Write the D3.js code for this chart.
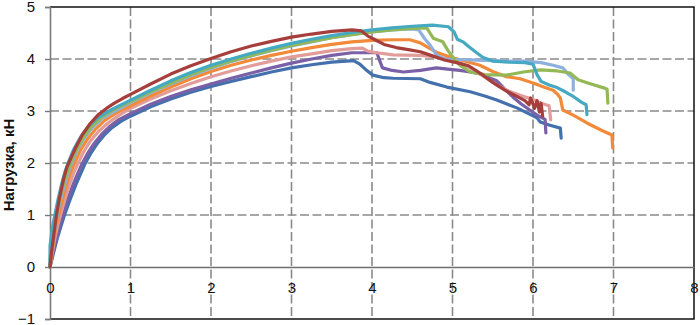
<!DOCTYPE html>
<html>
<head>
<meta charset="utf-8">
<script src="https://cdn.jsdelivr.net/npm/d3@7"></script>
<style>
  html, body { margin: 0; padding: 0; background: #fff; }
  svg { display: block; font-family: "Liberation Sans", Arial, sans-serif; }
</style>
</head>
<body>
<div id="root"></div>
<script>
// load curves, [displacement, load kN]
const blueCurve = [[0,0],[0.04,0.25],[0.09,0.55],[0.14,0.8],[0.18,1.0],[0.25,1.3],[0.32,1.58],[0.38,1.79],[0.43,1.97],[0.5,2.17],[0.58,2.36],[0.67,2.53],[0.77,2.68],[0.88,2.8],[1.0,2.9],[1.25,3.08],[1.5,3.23],[1.75,3.36],[2.0,3.47],[2.25,3.57],[2.5,3.66],[2.75,3.75],[3.0,3.83],[3.25,3.89],[3.5,3.94],[3.77,3.97],[3.85,3.9],[3.92,3.8],[4.01,3.69],[4.15,3.64],[4.26,3.63],[4.6,3.62],[4.72,3.55],[4.93,3.46],[5.22,3.37],[5.4,3.29],[5.55,3.21],[5.8,3.06],[6.05,2.87],[6.09,2.79],[6.2,2.73],[6.34,2.67],[6.35,2.48]]
const purpleCurve = [[0,0],[0.03,0.22],[0.08,0.55],[0.12,0.8],[0.16,1.0],[0.22,1.3],[0.29,1.6],[0.35,1.82],[0.4,1.99],[0.47,2.19],[0.55,2.38],[0.64,2.55],[0.74,2.7],[0.86,2.84],[1.0,2.95],[1.25,3.13],[1.5,3.28],[1.75,3.41],[2.0,3.52],[2.25,3.63],[2.5,3.73],[2.75,3.83],[3.0,3.92],[3.25,4.0],[3.5,4.07],[3.75,4.12],[4.06,4.12],[4.1,3.95],[4.13,3.83],[4.25,3.78],[4.39,3.75],[4.6,3.78],[4.8,3.83],[4.97,3.8],[5.09,3.78],[5.22,3.75],[5.34,3.72],[5.47,3.63],[5.55,3.58],[5.65,3.42],[5.75,3.27],[5.85,3.14],[5.96,3.02],[6.05,2.92],[6.15,2.84],[6.16,2.58]]
const pinkCurve = [[0,0],[0.02,0.2],[0.06,0.55],[0.1,0.83],[0.13,1.0],[0.19,1.33],[0.25,1.62],[0.3,1.83],[0.35,2.0],[0.42,2.22],[0.5,2.42],[0.6,2.6],[0.72,2.77],[0.86,2.92],[1.0,3.05],[1.25,3.23],[1.5,3.39],[1.75,3.53],[2.0,3.66],[2.25,3.77],[2.5,3.87],[2.75,3.96],[3.0,4.04],[3.25,4.1],[3.5,4.16],[3.75,4.2],[3.88,4.21],[3.95,4.15],[4.06,4.12],[4.26,4.08],[4.6,4.07],[4.8,4.04],[4.95,4.0],[5.1,3.92],[5.25,3.8],[5.4,3.65],[5.55,3.5],[5.7,3.38],[5.85,3.3],[6.0,3.22],[6.1,3.15],[6.2,3.1],[6.22,2.83]]
const orangeCurve = [[0,0],[0.02,0.25],[0.05,0.55],[0.08,0.8],[0.11,1.0],[0.16,1.32],[0.21,1.6],[0.26,1.83],[0.31,2.02],[0.38,2.25],[0.46,2.45],[0.56,2.64],[0.68,2.82],[0.83,2.97],[1.0,3.1],[1.25,3.29],[1.5,3.46],[1.75,3.62],[2.0,3.76],[2.25,3.88],[2.5,3.98],[2.75,4.07],[3.0,4.15],[3.25,4.22],[3.5,4.28],[3.75,4.33],[4.0,4.36],[4.25,4.37],[4.47,4.37],[4.6,4.31],[4.7,4.22],[4.8,4.13],[4.97,4.04],[5.15,3.96],[5.34,3.88],[5.5,3.76],[5.67,3.66],[5.84,3.62],[6.0,3.54],[6.15,3.45],[6.25,3.4],[6.3,3.33],[6.34,3.25],[6.37,3.02],[6.5,2.92],[6.67,2.77],[6.85,2.63],[6.98,2.54],[6.99,2.29]]
const lightBlueCurve = [[0,0],[0.01,0.2],[0.04,0.55],[0.07,0.82],[0.09,1.0],[0.14,1.35],[0.19,1.63],[0.23,1.83],[0.27,2.0],[0.34,2.25],[0.42,2.47],[0.52,2.67],[0.65,2.86],[0.82,3.01],[1.0,3.16],[1.25,3.35],[1.5,3.52],[1.75,3.68],[2.0,3.82],[2.25,3.95],[2.5,4.06],[2.75,4.16],[3.0,4.25],[3.25,4.33],[3.5,4.41],[3.75,4.47],[4.0,4.52],[4.25,4.56],[4.5,4.58],[4.58,4.56],[4.65,4.4],[4.72,4.27],[4.8,4.08],[4.9,4.0],[5.1,3.99],[5.3,3.98],[5.5,3.97],[5.7,3.96],[5.9,3.96],[6.1,3.93],[6.25,3.88],[6.37,3.83],[6.44,3.7],[6.48,3.65],[6.5,3.62],[6.5,3.4]]
const greenCurve = [[0,0],[0,0.15],[0.03,0.55],[0.06,0.82],[0.08,1.0],[0.13,1.37],[0.18,1.66],[0.22,1.85],[0.26,2.01],[0.33,2.26],[0.41,2.48],[0.51,2.69],[0.64,2.88],[0.81,3.04],[1.0,3.18],[1.25,3.37],[1.5,3.54],[1.75,3.7],[2.0,3.84],[2.25,3.96],[2.5,4.07],[2.75,4.17],[3.0,4.26],[3.25,4.34],[3.5,4.41],[3.75,4.47],[4.0,4.52],[4.25,4.56],[4.5,4.59],[4.68,4.6],[4.72,4.5],[4.76,4.4],[4.88,4.33],[4.94,4.17],[5.02,4.0],[5.09,3.88],[5.22,3.75],[5.4,3.7],[5.67,3.69],[5.88,3.75],[6.09,3.79],[6.3,3.77],[6.46,3.73],[6.56,3.6],[6.7,3.53],[6.89,3.44],[6.92,3.42],[6.93,3.15]]
const tealCurve = [[0,0],[0,0.4],[0.02,0.65],[0.04,0.85],[0.06,1.0],[0.1,1.3],[0.15,1.63],[0.19,1.85],[0.23,2.02],[0.3,2.28],[0.38,2.5],[0.48,2.71],[0.6,2.88],[0.78,3.04],[1.0,3.21],[1.25,3.4],[1.5,3.58],[1.75,3.74],[2.0,3.88],[2.25,4.0],[2.5,4.11],[2.75,4.21],[3.0,4.3],[3.25,4.38],[3.5,4.45],[3.75,4.51],[4.0,4.56],[4.25,4.6],[4.5,4.63],[4.75,4.65],[4.95,4.62],[5.02,4.52],[5.06,4.38],[5.13,4.33],[5.2,4.24],[5.3,4.12],[5.38,4.03],[5.5,3.96],[5.7,3.94],[5.9,3.93],[6.0,3.9],[6.05,3.7],[6.1,3.57],[6.2,3.5],[6.3,3.45],[6.4,3.37],[6.5,3.28],[6.6,3.17],[6.66,3.12],[6.67,2.93]]
const darkRedCurve = [[0,0],[0.02,0.3],[0.05,0.65],[0.08,1.0],[0.12,1.35],[0.17,1.7],[0.21,1.92],[0.25,2.06],[0.32,2.3],[0.4,2.54],[0.5,2.76],[0.6,2.93],[0.7,3.05],[0.8,3.15],[0.9,3.24],[1.0,3.32],[1.25,3.52],[1.5,3.71],[1.75,3.87],[2.0,4.01],[2.25,4.14],[2.5,4.25],[2.75,4.34],[3.0,4.42],[3.25,4.48],[3.5,4.53],[3.75,4.56],[3.87,4.54],[3.95,4.44],[4.05,4.36],[4.15,4.28],[4.3,4.22],[4.45,4.18],[4.6,4.14],[4.75,4.06],[4.9,3.98],[5.05,3.93],[5.2,3.87],[5.35,3.72],[5.5,3.55],[5.65,3.4],[5.8,3.28],[5.9,3.2],[5.95,3.12],[5.97,3.25],[6.02,3.05],[6.05,3.2],[6.08,2.98],[6.1,3.15],[6.12,2.9]]

const seriesList = [blueCurve, purpleCurve, pinkCurve, orangeCurve, lightBlueCurve, greenCurve, tealCurve, darkRedCurve]
const seriesColors = ["#4470ad", "#7a60a6", "#e29c9a", "#f28a3a", "#8db0dc", "#93b956", "#46a9c2", "#a63f3c"]

const xTicks = [0, 1, 2, 3, 4, 5, 6, 7, 8]
const yTicks = [-1, 0, 1, 2, 3, 4, 5]
const yTitle = "Нагрузка, кН"

function drawChart() {
  const ROOT_ELEM = d3.select("#root")
  ROOT_ELEM.selectAll("*").remove()

  const wrapper = { width: 700, height: 325 }
  const plot = { left: 50, right: 694, top: 7, bottom: 319 }

  const svg = ROOT_ELEM.append("svg")
    .attr("width", wrapper.width)
    .attr("height", wrapper.height)

  const xScale = d3.scaleLinear().domain([0, 8]).range([plot.left, plot.right])
  const yScale = d3.scaleLinear().domain([-1, 5]).range([plot.bottom, plot.top])

  // dashed grid
  const grid = svg.append("g")
    .attr("stroke", "#8a8a8a")
    .attr("stroke-width", 1.6)
    .attr("stroke-dasharray", "9,3.5")
  grid.selectAll(".gx")
    .data(xTicks.filter(d => d > 0 && d < 8))
    .join("line")
    .attr("x1", d => xScale(d)).attr("x2", d => xScale(d))
    .attr("y1", plot.top).attr("y2", plot.bottom)
  grid.selectAll(".gy")
    .data(yTicks.filter(d => d > 0 && d < 5))
    .join("line")
    .attr("class", "gy")
    .attr("x1", plot.left).attr("x2", plot.right)
    .attr("y1", d => yScale(d)).attr("y2", d => yScale(d))

  // frame top/right/bottom
  svg.append("path")
    .attr("d", `M${plot.left},${plot.top}H${plot.right}V${plot.bottom}H${plot.left}`)
    .attr("fill", "none")
    .attr("stroke", "#111")
    .attr("stroke-width", 1.5)

  // y axis
  const yAxis = svg.append("g")
    .attr("transform", `translate(${plot.left},0)`)
    .call(d3.axisLeft(yScale).tickValues(yTicks).tickSize(5).tickPadding(10).tickFormat(d3.format("d")))
  yAxis.select(".domain").attr("stroke", "#7a7a7a").attr("stroke-width", 1.6)
  yAxis.selectAll(".tick line").attr("stroke", "#7a7a7a").attr("stroke-width", 1.4)
  yAxis.selectAll("text").attr("font-size", 15).attr("fill", "#111")
    .attr("font-family", "Liberation Sans, Arial, sans-serif")

  // x axis sits on y = 0
  const xAxis = svg.append("g")
    .attr("transform", `translate(0,${yScale(0)})`)
    .call(d3.axisBottom(xScale).tickValues(xTicks).tickSize(0).tickPadding(15).tickFormat(d3.format("d")))
  xAxis.select(".domain").attr("stroke", "#6e6e6e").attr("stroke-width", 1.6)
  xAxis.selectAll("text").attr("font-size", 15).attr("fill", "#111")
    .attr("font-family", "Liberation Sans, Arial, sans-serif")

  // curves
  const lineGen = d3.line()
    .x(d => xScale(d[0]))
    .y(d => yScale(d[1]))
    .curve(d3.curveLinear)

  svg.append("g")
    .selectAll("path")
    .data(seriesList)
    .join("path")
    .attr("d", lineGen)
    .attr("fill", "none")
    .attr("stroke", (d, i) => seriesColors[i])
    .attr("stroke-width", 3.2)
    .attr("stroke-linejoin", "round")
    .attr("stroke-linecap", "round")

  // y title
  svg.append("text")
    .attr("transform", `translate(14,${165}) rotate(-90)`)
    .attr("text-anchor", "middle")
    .attr("font-size", 15)
    .attr("font-weight", "bold")
    .attr("fill", "#111")
    .text(yTitle)
}

drawChart()
</script>
</body>
</html>
